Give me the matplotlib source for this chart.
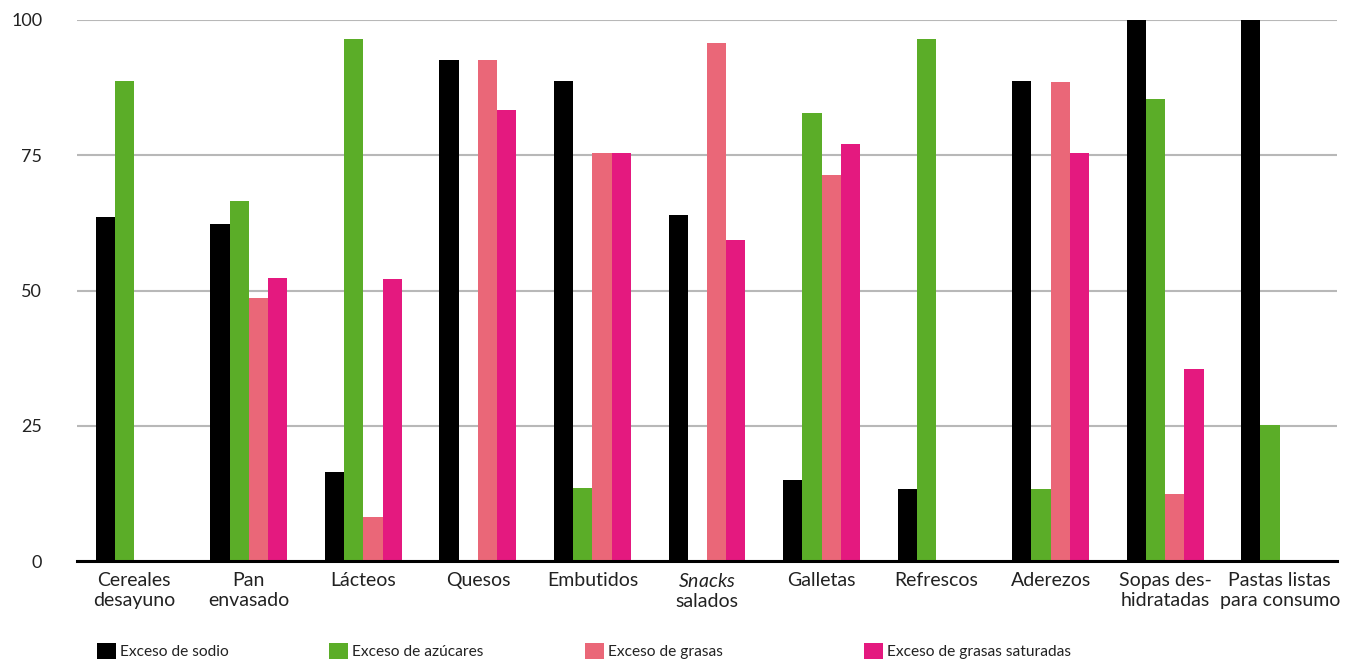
import matplotlib.pyplot as plt
import numpy as np
from matplotlib.patches import Patch

plt.rcParams['font.family'] = ['Lato', 'DejaVu Sans']
plt.rcParams['mathtext.fontset'] = 'custom'
plt.rcParams['mathtext.rm'] = 'Lato'
plt.rcParams['mathtext.it'] = 'Lato:italic'

categories = ["Cereales\ndesayuno", "Pan\nenvasado", "Lácteos", "Quesos",
              "Embutidos", "$\\it{Snacks}$\nsalados", "Galletas", "Refrescos",
              "Aderezos", "Sopas des-\nhidratadas", "Pastas listas\npara consumo"]

sodio = [63.6, 62.3, 16.5, 92.6, 88.7, 64.0, 15.0, 13.3, 88.7, 100, 100]
azucares = [88.7, 66.5, 96.5, 0, 13.5, 0, 82.8, 96.5, 13.3, 85.4, 25.1]
grasas = [0, 48.6, 8.1, 92.6, 75.4, 95.7, 71.3, 0, 88.5, 12.4, 0]
saturadas = [0, 52.3, 52.1, 83.4, 75.4, 59.3, 77.1, 0, 75.4, 35.5, 0]

series = [sodio, azucares, grasas, saturadas]
labels = ["Exceso de sodio", "Exceso de azúcares", "Exceso de grasas",
          "Exceso de grasas saturadas"]
colors = ["#000000", "#5bad28", "#ea6778", "#e4197f"]
legend_x = [97, 329, 585, 864]

W, H = 1351, 659
fig = plt.figure(figsize=(W / 100, H / 100), dpi=100)
ax = fig.add_axes([77 / W, 1 - 561 / H, (1337 - 77) / W, (561 - 20) / H])

x = np.arange(len(categories))
width = 0.168
for i, (vals, color) in enumerate(zip(series, colors)):
    ax.bar(x + (i - 1.5) * width, vals, width, color=color, zorder=3)

ax.set_xlim(-0.5, len(categories) - 0.5)
ax.set_ylim(0, 100)
ax.set_yticks([0, 25, 50, 75, 100])
ax.set_xticks(x)
ax.set_xticklabels(categories, fontsize=14, color="#222222")
ax.tick_params(axis="x", length=0, pad=8)
ax.tick_params(axis="y", length=0, pad=25, labelsize=13, labelcolor="#222222")
for lbl in ax.get_yticklabels():
    lbl.set_horizontalalignment("right")

ax.yaxis.grid(True, color="#b8b8b8", linewidth=1.5, zorder=0)
for side in ["top", "right", "left"]:
    ax.spines[side].set_visible(False)
ax.spines["bottom"].set_color("black")
ax.spines["bottom"].set_linewidth(2.2)
ax.spines["bottom"].set_zorder(4)

# one legend per series so each entry sits at its own spot
for lx, label, color in zip(legend_x, labels, colors):
    leg = fig.legend(handles=[Patch(facecolor=color, label=label)],
                     loc="center left", bbox_to_anchor=(lx / W, 1 - 651 / H),
                     frameon=False, fontsize=11.2, handlelength=1.2,
                     handleheight=1.2, handletextpad=0.3, borderpad=0,
                     borderaxespad=0)
    for t in leg.get_texts():
        t.set_color("#222222")

fig.savefig("out.png", dpi=100)
